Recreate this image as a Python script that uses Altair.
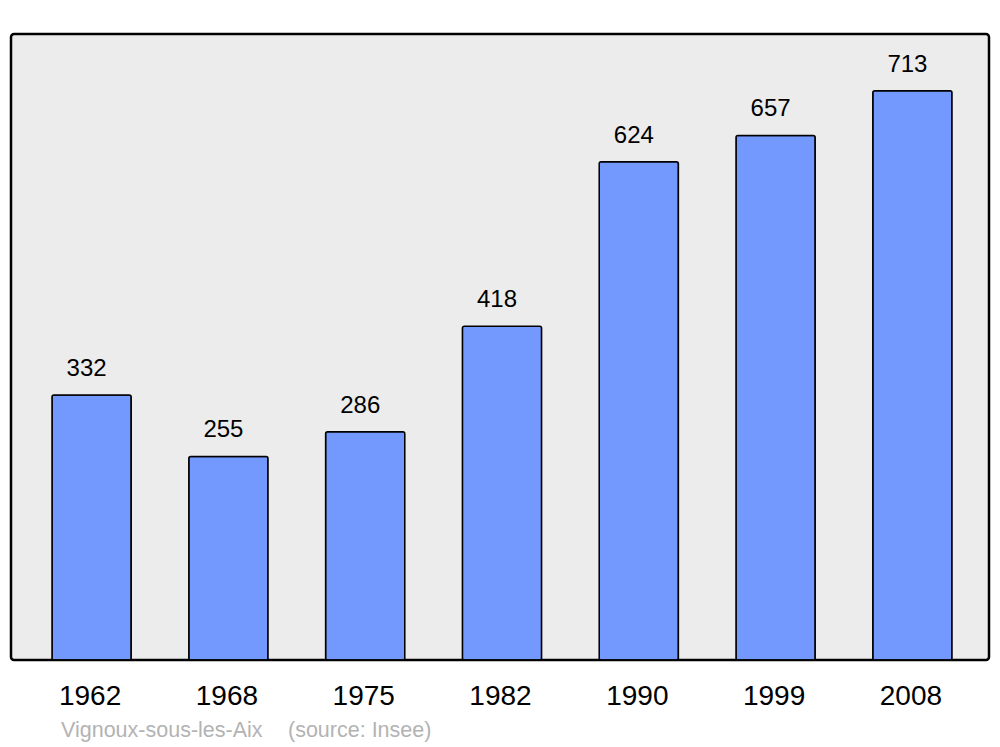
import altair as alt
import pandas as pd

years = ["1962", "1968", "1975", "1982", "1990", "1999", "2008"]
population = [332, 255, 286, 418, 624, 657, 713]

df = pd.DataFrame({"year": years, "pop": population})

W, H = 978, 626

x = alt.X(
    "year:N",
    sort=years,
    scale=alt.Scale(range=[41, 941], paddingInner=0.421, paddingOuter=0),
    axis=alt.Axis(
        title=None, ticks=False, domain=False, grid=False,
        labelFontSize=28, labelColor="#000000", labelFont="Liberation Sans",
        labelAngle=0, labelBaseline="alphabetic", labelPadding=44, labelOffset=-1.5,
    ),
)
y = alt.Y("pop:Q", scale=alt.Scale(domain=[0, 784], nice=False), axis=None)

bars = alt.Chart(df).mark_bar(
    color="#7399ff", stroke="#000000", strokeWidth=1.5, cornerRadius=2
).encode(x=x, y=y)

labels = alt.Chart(df).mark_text(
    fontSize=24, font="Liberation Sans", color="#000000",
    baseline="alphabetic", dy=-19, dx=-5,
).encode(x=x, y=y, text="pop:Q")

src1 = alt.Chart(pd.DataFrame({"t": ["Vignoux-sous-les-Aix"]})).mark_text(
    fontSize=21.5, font="Liberation Sans", color="#b3b3b3", align="left", baseline="alphabetic"
).encode(x=alt.value(50), y=alt.value(703), text="t:N")

src2 = alt.Chart(pd.DataFrame({"t": ["(source: Insee)"]})).mark_text(
    fontSize=21.5, font="Liberation Sans", color="#b3b3b3", align="left", baseline="alphabetic"
).encode(x=alt.value(277), y=alt.value(703), text="t:N")

chart = alt.layer(bars, labels, src1, src2).properties(
    width=W, height=H,
    background="#ffffff",
    autosize=alt.AutoSizeParams(type="none"),
    padding={"left": 3, "top": 26, "right": 3, "bottom": 95},
).configure_view(
    fill="#ececec", stroke="#000000", strokeWidth=2.5, cornerRadius=3
)

chart.save("out.html", embed_options={"renderer": "svg", "actions": False})
